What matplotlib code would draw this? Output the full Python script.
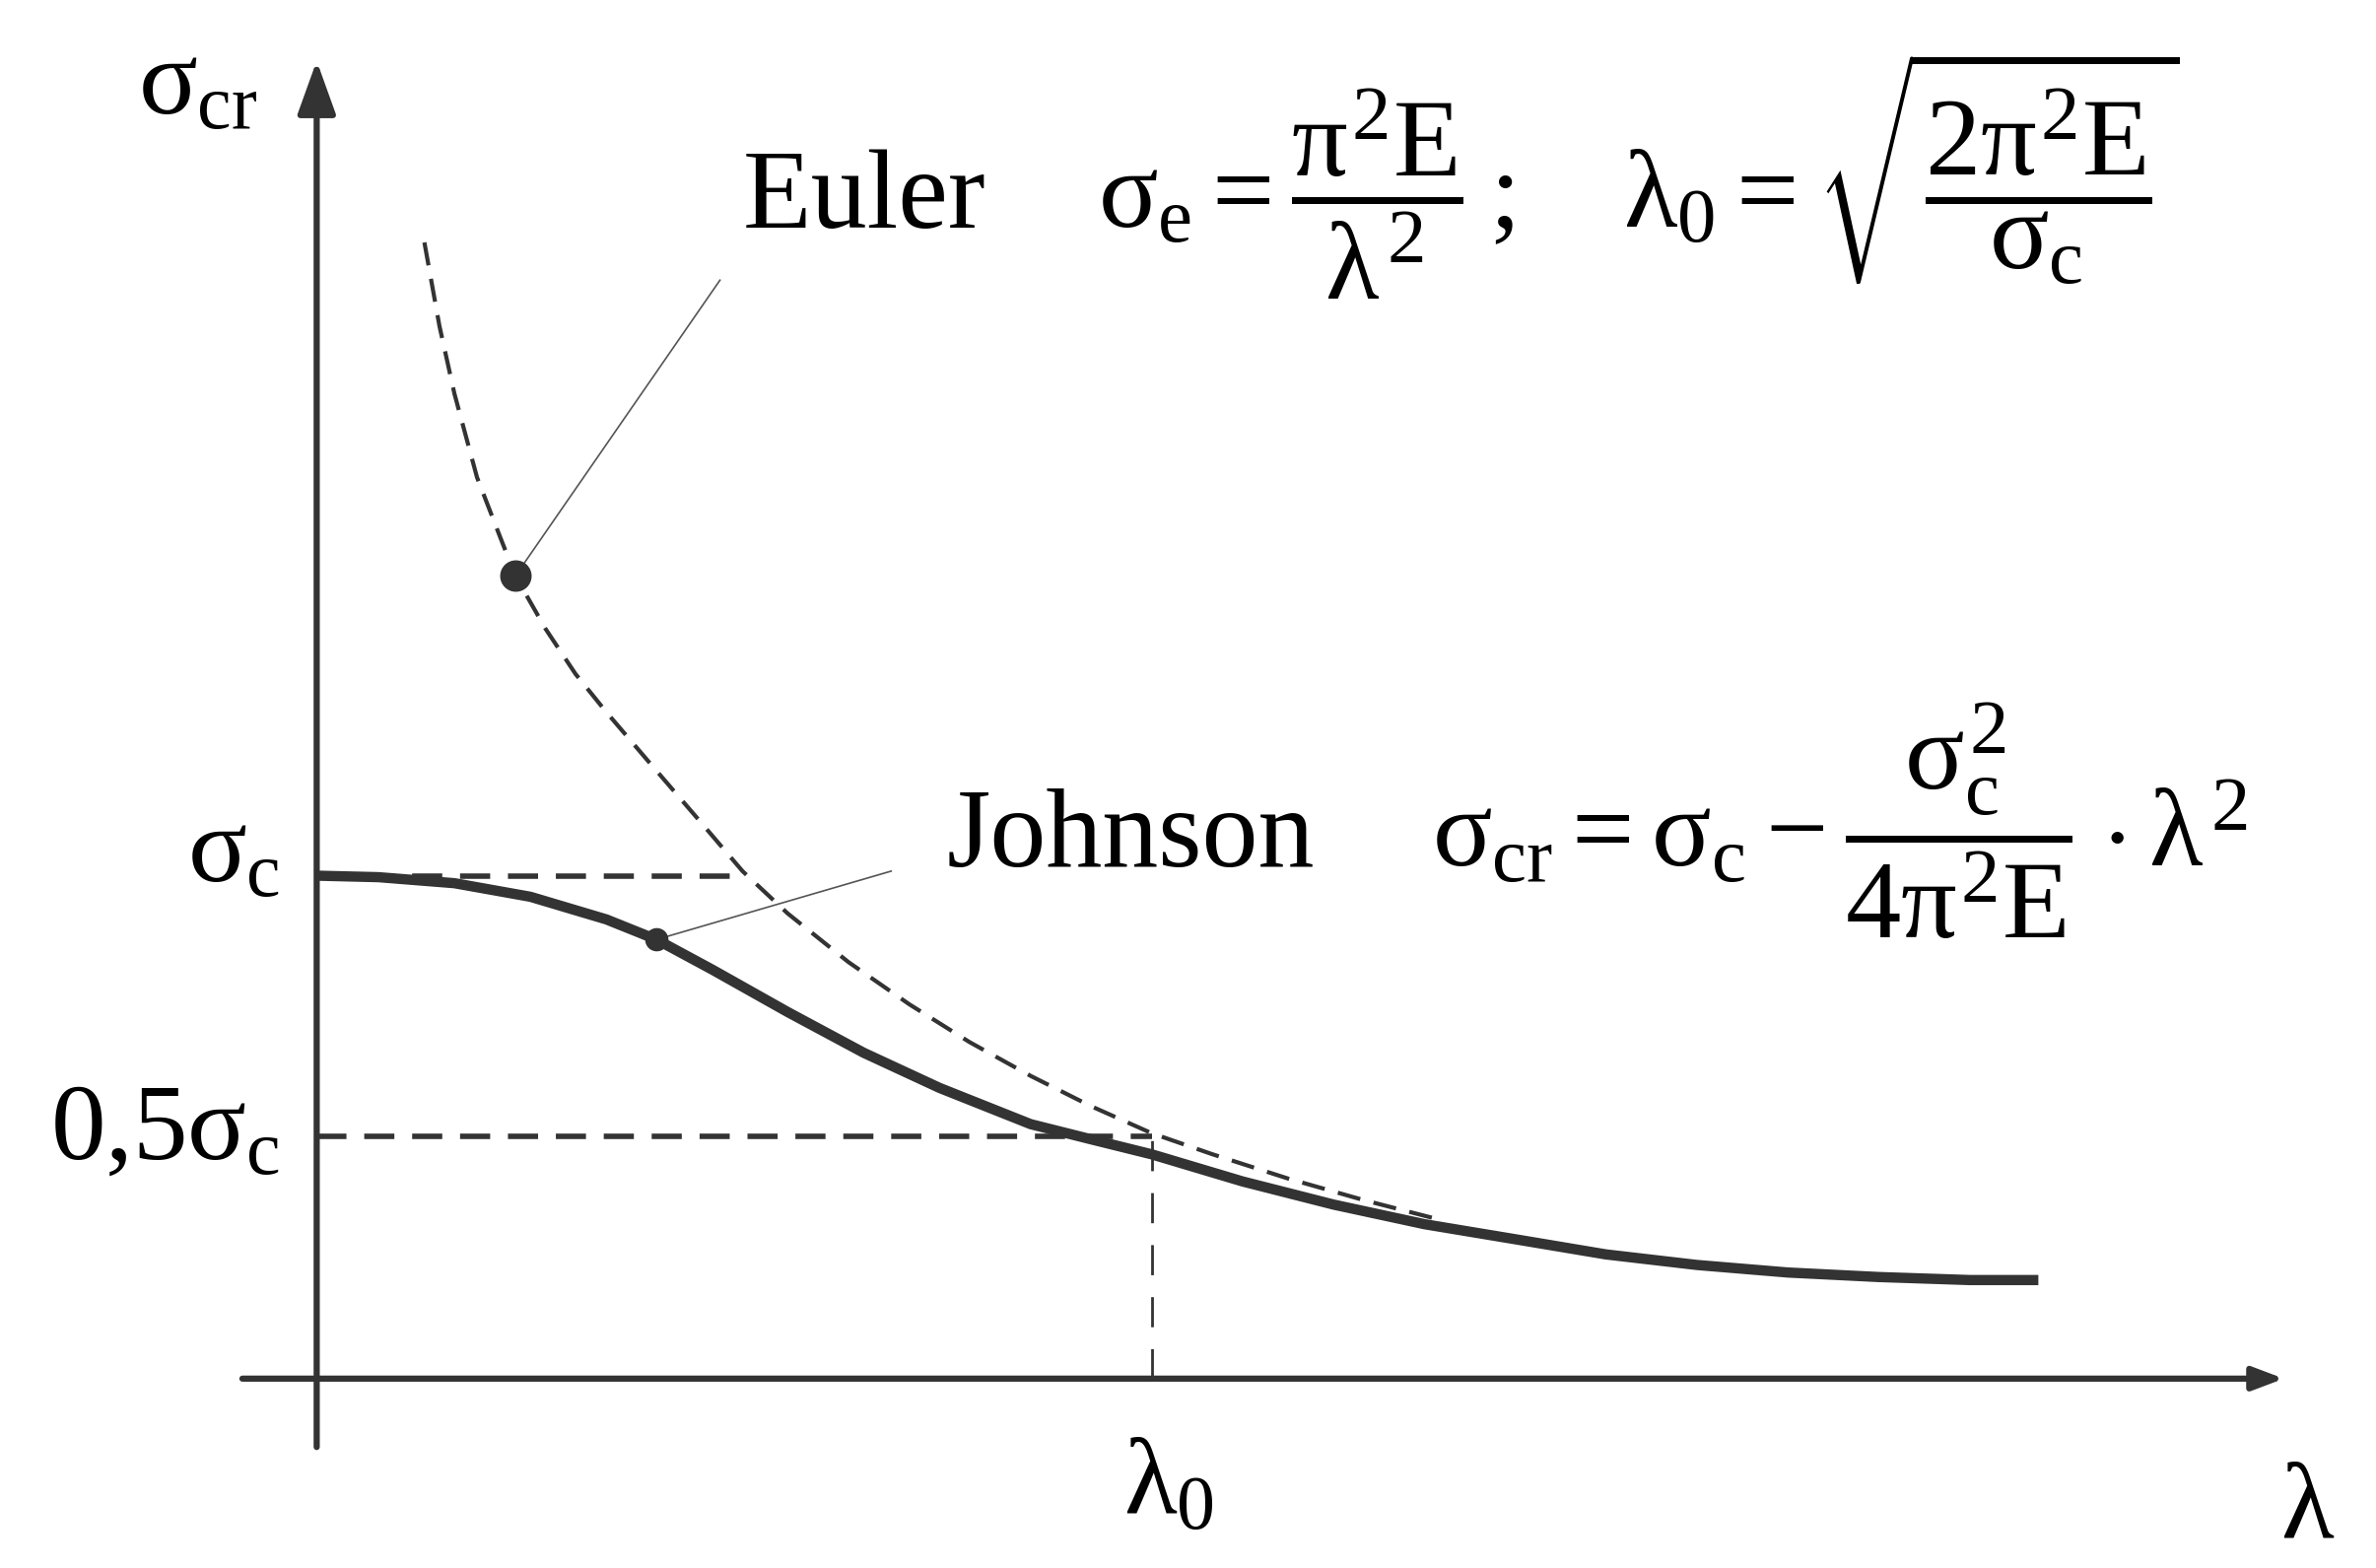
import matplotlib
matplotlib.use("Agg")
import matplotlib.pyplot as plt

plt.rcParams["mathtext.fontset"] = "custom"
plt.rcParams["mathtext.rm"] = "Liberation Serif"
plt.rcParams["mathtext.it"] = "Liberation Serif"
plt.rcParams["mathtext.bf"] = "Liberation Serif:bold"
plt.rcParams["font.family"] = ["Liberation Serif", "DejaVu Serif"]
plt.rcParams["lines.scale_dashes"] = False

# x in units of lambda_0, y in units of sigma_c
johnson_x = [0.0, 0.074, 0.165, 0.256, 0.347, 0.407, 0.474, 0.564, 0.655,
             0.746, 0.855, 0.927, 1.0, 1.109, 1.218, 1.327, 1.436, 1.544,
             1.653, 1.762, 1.871, 1.980, 2.062]
johnson_y = [1.0, 0.997, 0.985, 0.958, 0.913, 0.873, 0.813, 0.729, 0.648,
             0.578, 0.506, 0.476, 0.446, 0.392, 0.346, 0.307, 0.277, 0.247,
             0.226, 0.211, 0.202, 0.196, 0.196]

euler_x = [0.129, 0.147, 0.165, 0.192, 0.220, 0.238, 0.274, 0.310, 0.347,
           0.401, 0.456, 0.510, 0.564, 0.637, 0.710, 0.782, 0.855, 0.927,
           1.0, 1.073, 1.163, 1.254, 1.345]
euler_y = [2.259, 2.093, 1.958, 1.792, 1.672, 1.596, 1.491, 1.401, 1.325,
           1.220, 1.114, 1.009, 0.925, 0.828, 0.744, 0.669, 0.602, 0.542,
           0.488, 0.446, 0.398, 0.355, 0.316]

euler_dot = (0.238, 1.596)
johnson_dot = (0.407, 0.873)
euler_leader_end = (0.483, 2.184)
johnson_leader_end = (0.688, 1.009)

sigma_c_level = 1.0
half_level = 0.482
lambda_0 = 1.0
sigma_c_end = 0.51

x_axis = (-0.089, 2.356)
y_axis = (-0.136, 2.620)

col = "#333333"

fig = plt.figure(figsize=(24.11, 15.91), dpi=100)
ax = fig.add_axes([0, 0, 1, 1])
ax.set_xlim(-0.3793, 2.4664)
ax.set_ylim(-0.3765, 2.741)
ax.axis("off")

# axes with arrows
ax.annotate("", xy=(x_axis[1], 0), xytext=(x_axis[0], 0),
            arrowprops=dict(arrowstyle="-|>,head_length=0.45,head_width=0.17",
                            lw=4.5, color=col, mutation_scale=42,
                            shrinkA=0, shrinkB=0))
ax.annotate("", xy=(0, y_axis[1]), xytext=(0, y_axis[0]),
            arrowprops=dict(arrowstyle="-|>,head_length=0.5,head_width=0.18",
                            lw=4.5, color=col, mutation_scale=66,
                            shrinkA=0, shrinkB=0))

# guide lines
ax.plot([0, sigma_c_end], [sigma_c_level, sigma_c_level], color=col, lw=4,
        linestyle=(0, (22, 13)))
ax.plot([0, lambda_0], [half_level, half_level], color=col, lw=4,
        linestyle=(0, (22, 13)))
ax.plot([lambda_0, lambda_0], [0, half_level], color=col, lw=2,
        linestyle=(0, (22, 16)))

# curves
ax.plot(euler_x, euler_y, color=col, lw=3, linestyle=(0, (17, 10)))
ax.plot(johnson_x, johnson_y, color=col, lw=7.5, solid_capstyle="butt",
        solid_joinstyle="round")

# leader lines and dots
ax.plot([euler_dot[0], euler_leader_end[0]], [euler_dot[1], euler_leader_end[1]],
        color="#555555", lw=1.2)
ax.plot([johnson_dot[0], johnson_leader_end[0]],
        [johnson_dot[1], johnson_leader_end[1]], color="#555555", lw=1.2)
ax.plot(*euler_dot, "o", color=col, markersize=22)
ax.plot(*johnson_dot, "o", color=col, markersize=16)

fs = 80
ax.text(0.510, 2.289, "Euler", fontsize=82, va="baseline", ha="left")
ax.text(0.936, 2.289,
        r"$\sigma_{\mathrm{e}} = \dfrac{\pi^2 E}{\lambda^2}\,;\quad "
        r"\lambda_0 = \sqrt{\dfrac{2\pi^2 E}{\sigma_{\mathrm{c}}}}$",
        fontsize=81, va="baseline", ha="left")
ax.text(0.755, 1.018, "Johnson", fontsize=82, va="baseline", ha="left")
ax.text(1.336, 1.018,
        r"$\sigma_{\mathrm{cr}} = \sigma_{\mathrm{c}} - "
        r"\dfrac{\sigma_{\mathrm{c}}^2}{4\pi^2 E}\cdot\lambda^2$",
        fontsize=81, va="baseline", ha="left")

ax.text(-0.071, 2.515, r"$\sigma_{\mathrm{cr}}$", fontsize=fs,
        va="baseline", ha="right")
ax.text(-0.044, 0.988, r"$\sigma_{\mathrm{c}}$", fontsize=fs,
        va="baseline", ha="right")
ax.text(-0.044, 0.437, r"$0{,}5\sigma_{\mathrm{c}}$", fontsize=fs,
        va="baseline", ha="right")
ax.text(1.02, -0.271, r"$\lambda_0$", fontsize=fs, va="baseline",
        ha="center")
ax.text(2.352, -0.316, r"$\lambda$", fontsize=fs, va="baseline", ha="left")

fig.savefig("out.png", dpi=100, facecolor="white")
